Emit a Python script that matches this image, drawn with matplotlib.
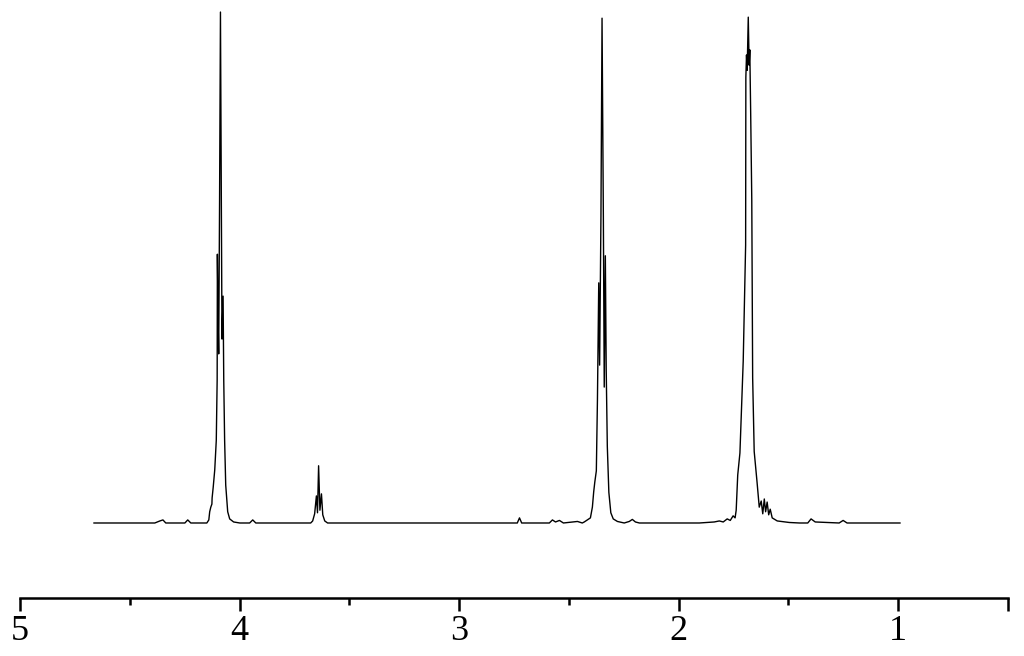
import matplotlib
matplotlib.use("Agg")
import matplotlib.pyplot as plt

# 1H NMR trace, chemical shift (ppm) vs intensity (tallest peak = 100)
ppm = [4.663, 4.386, 4.363, 4.349, 4.336, 4.249, 4.236, 4.222, 4.149,
       # peak at 4.09
       4.140, 4.136, 4.131, 4.126, 4.125, 4.120, 4.113, 4.106, 4.102, 4.101,
       4.097, 4.095, 4.091, 4.087, 4.083, 4.080, 4.075, 4.072, 4.068, 4.063,
       4.054, 4.045, 4.027, 3.999, 3.954, 3.940, 3.926,
       # peak at 3.64
       3.676, 3.667, 3.658, 3.650, 3.645, 3.640, 3.634, 3.627, 3.621, 3.612, 3.599,
       # small stuff
       2.735, 2.725, 2.715, 2.589, 2.575, 2.561, 2.543, 2.525, 2.461, 2.439,
       # peak at 2.35
       2.430, 2.416, 2.402, 2.393, 2.387, 2.382, 2.375, 2.370, 2.364, 2.360,
       2.354, 2.349, 2.343, 2.339, 2.334, 2.330, 2.325, 2.318, 2.309, 2.298,
       2.279, 2.248, 2.225, 2.211, 2.197, 2.179,
       # peak at 1.68
       1.906, 1.838, 1.815, 1.797, 1.779, 1.765, 1.752, 1.743, 1.738, 1.731,
       1.721, 1.706, 1.695, 1.694, 1.691, 1.688, 1.683, 1.679, 1.676, 1.672,
       1.667, 1.663, 1.656, 1.643, 1.633, 1.624, 1.617, 1.610, 1.604, 1.597,
       1.590, 1.583, 1.574, 1.551, 1.496, 1.450,
       1.412, 1.397, 1.378, 1.269, 1.251, 1.233, 0.992]

intensity = [0.0, 0.0, 0.4, 0.6, 0.0, 0.0, 0.6, 0.0, 0.0,
             0.6, 2.2, 3.1, 3.7, 4.9, 7.0, 10.4, 16.2, 28.0, 52.6,
             37.8, 33.1, 63.2, 100.0, 63.2, 36.0, 44.4, 28.0, 16.2, 7.4,
             2.2, 0.8, 0.2, 0.0, 0.0, 0.6, 0.0,
             0.0, 0.4, 1.8, 5.3, 2.0, 11.2, 2.5, 5.7, 1.6, 0.4, 0.0,
             0.0, 1.0, 0.0, 0.0, 0.6, 0.2, 0.5, 0.0, 0.3, 0.0,
             0.2, 0.6, 1.0, 3.1, 6.1, 8.0, 10.2, 24.0, 47.0, 30.9,
             60.0, 98.8, 60.0, 26.6, 52.3, 30.0, 15.0, 6.0, 2.0, 0.8,
             0.3, 0.0, 0.3, 0.7, 0.2, 0.0,
             0.0, 0.2, 0.4, 0.2, 0.8, 0.5, 1.4, 1.0, 2.5, 9.4,
             13.7, 31.7, 54.4, 87.2, 91.6, 88.6, 99.0, 89.6, 92.6, 80.2,
             63.2, 28.4, 14.0, 8.0, 3.1, 4.3, 1.8, 4.7, 2.2, 4.1,
             1.6, 2.7, 1.0, 0.4, 0.1, 0.0,
             0.0, 0.8, 0.2, 0.0, 0.5, 0.0, 0.0]

major_ticks = [5, 4, 3, 2, 1, 0.5]
major_labels = ["5", "4", "3", "2", "1", ""]
minor_ticks = [4.5, 3.5, 2.5, 1.5]

fig = plt.figure(figsize=(10.24, 6.56), dpi=100)
ax = fig.add_axes([20 / 1024, 58 / 656, 988 / 1024, 588 / 656])

ax.plot(ppm, intensity, color="black", lw=1.0)

ax.set_xlim(5, 0.5)
ax.set_ylim(-14.68, 100.4)

for s in ["left", "right", "top"]:
    ax.spines[s].set_visible(False)
ax.spines["bottom"].set_linewidth(1.8)
ax.set_yticks([])

ax.set_xticks(major_ticks)
ax.set_xticklabels(major_labels, family=["Liberation Serif"], fontsize=26)
ax.set_xticks(minor_ticks, minor=True)
ax.tick_params(axis="x", which="major", direction="out", length=9, width=1.8, pad=3)
ax.tick_params(axis="x", which="minor", direction="out", length=5, width=1.8)

fig.savefig("out.png", dpi=100)
